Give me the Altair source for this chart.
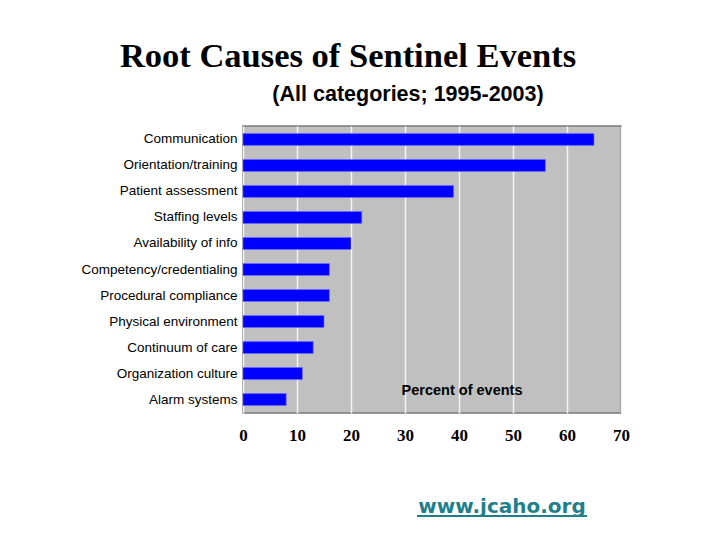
import altair as alt
import pandas as pd

categories = ["Communication", "Orientation/training", "Patient assessment", "Staffing levels",
              "Availability of info", "Competency/credentialing", "Procedural compliance",
              "Physical environment", "Continuum of care", "Organization culture", "Alarm systems"]
values = [65, 56, 39, 22, 20, 16, 16, 15, 13, 11, 8]
x_ticks = [0, 10, 20, 30, 40, 50, 60, 70]

title_text = "Root Causes of Sentinel Events"
subtitle_text = "(All categories; 1995-2003)"
axis_note = "Percent of events"
link_text = "www.jcaho.org"

df = pd.DataFrame({"cause": categories, "pct": values})
one = pd.DataFrame({"k": [0]})

bars = alt.Chart(df).mark_bar(color="#0000ff", stroke="#6f6fff", strokeWidth=0.6).encode(
    x=alt.X("pct:Q", scale=alt.Scale(domain=[0, 70], nice=False),
            axis=alt.Axis(values=x_ticks, title=None, ticks=False, domain=False,
                          grid=True, gridColor="#f4f4f4", gridWidth=1.5,
                          labelFont="Liberation Serif", labelFontWeight="bold",
                          labelFontSize=17, labelColor="#000000", labelPadding=14,
                          labelFlush=False)),
    y=alt.Y("cause:N", sort=categories,
            scale=alt.Scale(paddingInner=0.54, paddingOuter=0.285),
            axis=alt.Axis(title=None, ticks=False, domain=False,
                          labelFont="Liberation Sans", labelFontSize=13.5,
                          labelColor="#000000", labelPadding=6)),
)

def txt(t, x, y, size, font, weight="bold", color="#000000", baseline="middle"):
    return alt.Chart(one).mark_text(font=font, fontSize=size, fontWeight=weight,
                                    color=color, align="center", baseline=baseline).encode(
        x=alt.value(x), y=alt.value(y), text=alt.value(t))

title = txt(title_text, 105, -69, 34.5, "Liberation Serif")
subtitle = txt(subtitle_text, 165, -31, 21.5, "Liberation Sans")
note = txt(axis_note, 219, 265, 14.5, "Liberation Sans")
link = txt(link_text, 259, 387, 20, "DejaVu Sans", weight="bold", color="#1f7f8c",
           baseline="alphabetic")
underline = alt.Chart(one).mark_rule(color="#1f7f8c", strokeWidth=2).encode(
    x=alt.value(174), x2=alt.value(344), y=alt.value(390))

chart = alt.layer(bars, title, subtitle, note, link, underline).properties(
    width=378, height=287,
    autosize=alt.AutoSizeParams(type="none"),
    padding={"left": 235, "top": 118, "right": 90, "bottom": 118},
    background="#ffffff",
).configure_view(fill="#c0c0c0", stroke="#7a7a7a", strokeWidth=1.5)

chart.save("out.html", embed_options={"renderer": "svg", "actions": False})
